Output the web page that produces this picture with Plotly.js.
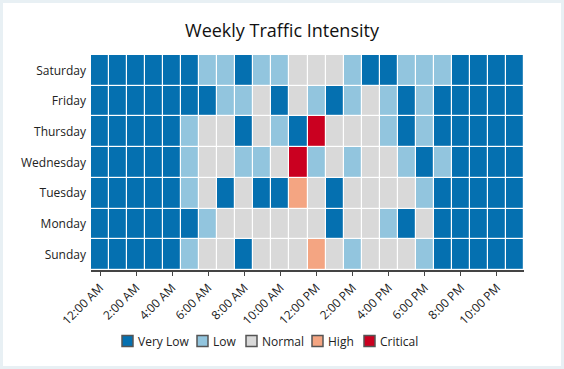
<!DOCTYPE html>
<html>
<head>
<meta charset="utf-8">
<script src="https://cdn.plot.ly/plotly-3.0.1.min.js"></script>
<style>
  html, body { margin: 0; padding: 0; background: #e8f0f4; width: 564px; height: 369px; overflow: hidden; }
  #chart { position: absolute; left: 3px; top: 3px; width: 558px; height: 363px; background: #ffffff; }
</style>
</head>
<body>
<div id="chart"></div>
<script>
// Hours (x categories)
const hours = ["12:00 AM","1:00 AM","2:00 AM","3:00 AM","4:00 AM","5:00 AM","6:00 AM","7:00 AM",
  "8:00 AM","9:00 AM","10:00 AM","11:00 AM","12:00 PM","1:00 PM","2:00 PM","3:00 PM",
  "4:00 PM","5:00 PM","6:00 PM","7:00 PM","8:00 PM","9:00 PM","10:00 PM","11:00 PM"];
const hourTicks = ["12:00 AM","2:00 AM","4:00 AM","6:00 AM","8:00 AM","10:00 AM",
  "12:00 PM","2:00 PM","4:00 PM","6:00 PM","8:00 PM","10:00 PM"];
// Days (bottom to top)
const days = ["Sunday","Monday","Tuesday","Wednesday","Thursday","Friday","Saturday"];
// Levels
const levels = ["Very Low","Low","Normal","High","Critical"];
const levelColors = ["#0570b0","#92c5de","#d9d9d9","#f4a582","#ca0020"];

// Intensity level per day (0=Very Low .. 4=Critical), 24 hours each
const sunday    = [0,0,0,0,0,1,2,2,0,2,2,2,3,2,1,2,2,2,1,0,0,0,0,0];
const monday    = [0,0,0,0,0,0,1,2,2,2,2,2,2,0,2,2,1,0,2,0,0,0,0,0];
const tuesday   = [0,0,0,0,0,1,2,0,2,0,0,3,2,0,2,2,2,2,1,0,0,0,0,0];
const wednesday = [0,0,0,0,0,1,2,2,1,1,2,4,1,2,1,2,2,1,0,1,0,0,0,0];
const thursday  = [0,0,0,0,0,1,2,2,0,2,1,0,4,2,2,2,1,0,1,0,0,0,0,0];
const friday    = [0,0,0,0,0,0,0,1,1,2,0,2,1,0,1,2,1,0,1,0,0,0,0,0];
const saturday  = [0,0,0,0,0,0,1,1,0,1,1,2,2,2,1,0,0,1,1,1,0,0,0,0];

const z = [sunday, monday, tuesday, wednesday, thursday, friday, saturday];
const text = z.map(r => r.map(v => levels[v]));

// discrete colorscale
const cs = [];
levelColors.forEach((c, i) => {
  cs.push([i / levelColors.length, c]);
  cs.push([(i + 1) / levelColors.length, c]);
});

const traces = [{
  type: "heatmap",
  x: hours,
  y: days,
  z: z,
  text: text,
  zmin: -0.5,
  zmax: 4.5,
  colorscale: cs,
  showscale: false,
  xgap: 1.2,
  ygap: 1.2,
  hovertemplate: "%{y} %{x}: %{text}<extra></extra>",
  showlegend: false
}];

// Plot area geometry (div pixels)
const W = 558, H = 363;
const M = { l: 88, r: 37, t: 52, b: 96 };
const plotW = W - M.l - M.r, plotH = H - M.t - M.b;

// Custom legend layout (page-pixel positions of each entry's swatch left edge)
const legendSwatchLeft = [122, 197, 246, 312, 364];
const legendCenterY = 341;
const pageOffset = 3;
const toPaperX = px => (px - pageOffset - M.l) / plotW;
const toPaperY = py => (H - M.b - (py - pageOffset)) / plotH;

const shapes = [];
const annotations = [];
levels.forEach((name, i) => {
  const sx = toPaperX(legendSwatchLeft[i]);
  shapes.push({
    type: "rect", xref: "paper", yref: "paper",
    xsizemode: "pixel", ysizemode: "pixel",
    xanchor: sx, yanchor: toPaperY(legendCenterY),
    x0: 0, x1: 11, y0: -5.5, y1: 5.5,
    fillcolor: levelColors[i],
    line: { color: "#555", width: 1.5 }
  });
  annotations.push({
    xref: "paper", yref: "paper",
    x: toPaperX(legendSwatchLeft[i] + 15), xanchor: "left",
    y: toPaperY(legendCenterY), yanchor: "middle",
    text: name, showarrow: false, borderpad: 0,
    font: { size: 12, color: "#222" }
  });
});

const layout = {
  width: W,
  height: H,
  margin: M,
  paper_bgcolor: "#ffffff",
  plot_bgcolor: "#ffffff",
  font: { family: "'Segoe UI', 'Open Sans', 'Noto Sans', sans-serif", color: "#222", size: 12 },
  title: { text: "Weekly Traffic Intensity", x: 0.5, xanchor: "center",
           y: 1 - 28 / H, yanchor: "middle",
           font: { size: 18, color: "#111" } },
  xaxis: {
    type: "category",
    categoryorder: "array",
    categoryarray: hours,
    tickvals: hourTicks,
    ticktext: hourTicks,
    tickangle: -45,
    ticks: "outside",
    ticklen: 4,
    tickcolor: "#444",
    showline: true,
    linecolor: "#444",
    linewidth: 2,
    showgrid: false,
    zeroline: false,
    automargin: false,
    tickfont: { size: 12, color: "#222" },
    fixedrange: true
  },
  yaxis: {
    type: "category",
    categoryorder: "array",
    categoryarray: days,
    showgrid: false,
    zeroline: false,
    showline: false,
    ticks: "",
    automargin: false,
    ticklabelstandoff: 4,
    tickfont: { size: 12, color: "#222" },
    fixedrange: true
  },
  shapes: shapes,
  annotations: annotations,
  showlegend: false
};

Plotly.newPlot("chart", traces, layout, { displayModeBar: false, staticPlot: true });
</script>
</body>
</html>
